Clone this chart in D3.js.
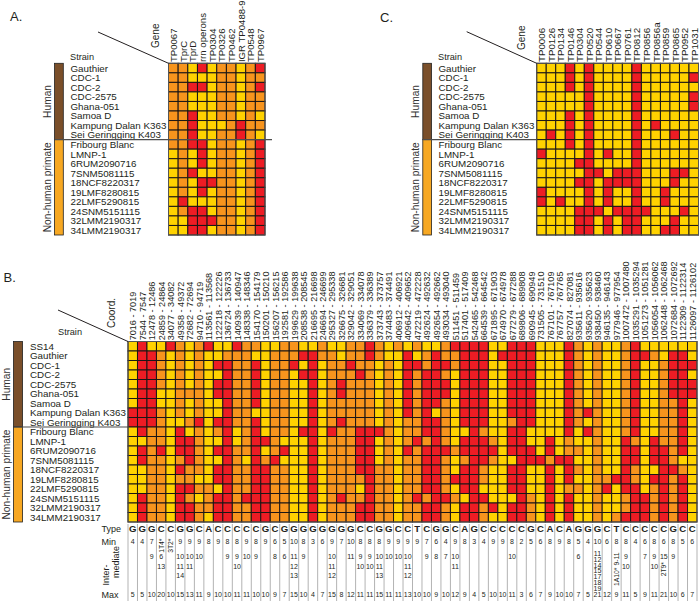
<!DOCTYPE html>
<html><head><meta charset="utf-8">
<script src="https://cdn.jsdelivr.net/npm/d3@7"></script>
<style>body{margin:0;background:#fff}svg{display:block;font-family:"Liberation Sans",Arial,sans-serif;fill:#231f20}</style>
</head><body><svg id="c" width="700" height="601"></svg>
<script>
// ---------- data ----------
const strainsAC = ["Gauthier","CDC-1","CDC-2","CDC-2575","Ghana-051","Samoa D","Kampung Dalan K363","Sei Geringging K403","Fribourg Blanc","LMNP-1","6RUM2090716","7SNM5081115","18NCF8220317","19LMF8280815","22LMF5290815","24SNM5151115","32LMM2190317","34LMM2190317"];
const strainsB = ["SS14","Gauthier","CDC-1","CDC-2","CDC-2575","Ghana-051","Samoa D","Kampung Dalan K363","Sei Geringging K403","Fribourg Blanc","LMNP-1","6RUM2090716","7SNM5081115","18NCF8220317","19LMF8280815","22LMF5290815","24SNM5151115","32LMM2190317","34LMM2190317"];
const humanCountAC = 8;
const humanCountB = 9;
const groupNames = ["Human","Non-human primate"];

const genesA = ["TP0067","TprC","TprD","rrn operons","TP0304","TP0326","TP0462","IGR TP0488-9","TP0548","TP0967"];
const cellsA = [
"OOYRYOOYOR","OOYYYOOYOO","OORRYOOYOR","OOYYYOOYOO","OOYYYOOYOO","OORYYOOYOY",
"OORYYYOROO","OORYYOOROY","OORRYOOYOR","YOYRYOOYOR","YOYRYOOYOR","YORYYOOYOR",
"YOYRROOYOR","YOYRYOOYOR","YRYYYOOYOR","YORRYOOYOR","YYRRROOYOR","YYRRYOOYOR"];

const genesC = ["TP0006","TP0126","TP0134","TP0146","TP0304","TP0520","TP0544","TP0610","TP0667","TP0761","TP0812","TP0856","TP0856a","TP0859","TP0865","TP0952","TP1031"];
const cellsC = [
"YYYRYRYYYYRYYYYYY","YYYRYRYYYYRYYYYYR","YYYRYRYYYYRYYYYYY","YYYYYRYYYYRYYYYYR",
"YYYYYRYYYYRYYYYYR","YYYRYRYYYYRYYYYYY","YYYRYRYYYYRYRYYYY","YRYRYRYYYYRYYYRYY",
"YYYRYRYYYYRYYYYYY","RYYYYRYRYYRYYYYYY","YYYYRRYYYYRYYYYYY","YYYYYRRYRRRYYYRRY",
"YYYYRRYRRRRYYYRYY","RYYYYRYRYYRYYRYYY","RYRYYRYRYYRYYRYYY","YYYYRRRYRRRRYYYRY",
"YYYYRRYRYRRYYYRYY","YYYYRRYRYRRYYRRYY"];

const coordsB = ["7016 - 7019","7544 - 7547","12478 - 12486","24859 - 24864","34077 - 34082","49358 - 49372","72682 - 72694","94710 - 94719","113561 - 113568","122218 - 122226","136724 - 136733","140939 - 140947","148338 - 148346","154170 - 154179","150201 - 150210","156207 - 156215","192581 - 192586","199629 - 199638","208538 - 208545","216695 - 216698","246694 - 246699","295327 - 295338","326675 - 326681","329042 - 329051","334069 - 334078","336379 - 336389","373743 - 373757","374483 - 374491","406912 - 406921","409642 - 409652","472219 - 472228","492624 - 492632","492654 - 492662","493034 - 493040","511451 - 511459","517401 - 517409","542465 - 542468","664539 - 664542","671895 - 671903","674970 - 674978","677279 - 677288","689806 - 689808","690945 - 690949","731505 - 731510","767101 - 767109","767757 - 767765","827074 - 827081","935611 - 935616","935620 - 935623","938450 - 938460","946135 - 946143","977946 - 977954","1007472 - 1007480","1035291 - 1035294","1051273 - 1051281","1056054 - 1056062","1062448 - 1062468","1072684 - 1072692","1122309 - 1122314","1126097 - 1126102"];
const cellsB = [
"YRYYROYORY"+"YROOYYOOYY"+"OYYOOROYOY"+"OYYORRRRYY"+"RRRYYYROYO"+"YYORYYYYYY",
"YRROYOYOYY"+"OOOYYOOORR"+"OOYOOROYYR"+"YOROORRRYR"+"RRRYYYROYO"+"YYORROYRRY",
"YRROYOYOYR"+"ROORYOORYR"+"YOOROOYOYR"+"RORRORRRYY"+"RRRYYYROYO"+"YYORYYORRR",
"YRROYOYOYY"+"ROORYOOYRR"+"YOOOROYOYR"+"ORROYRRRYY"+"RRRYYYROYO"+"YYORYYORRY",
"YRROYOYOYR"+"ROORYOOYYR"+"YOROOOYOYR"+"ORRRYRRRYY"+"RRRYYYROYO"+"YYORYYORRR",
"YRRYYOOOYR"+"ROORYOOYYR"+"YOROOOYOYR"+"ORRRYRRRYY"+"RRRYYYROYO"+"YYORYYORRR",
"YRRYYOYOYY"+"ROORYOOYYR"+"YOOOOOYOYR"+"ORROYRRRYY"+"RRRYYYROYO"+"YYORYYOORY",
"RRROYOYOYY"+"ROOYYOOYYR"+"YOOOOOYOYR"+"ORYOYRRRYY"+"RRRYYYRORO"+"YYORYYOORY",
"RRROYYORYR"+"ROORYOOYYR"+"YOROOOYOYO"+"ORROYRRRYY"+"ORRYYYROYO"+"YYORYYOORY",
"YROOYRYOYO"+"RYORYOOYRR"+"YROORRROYO"+"ORROYYROYY"+"RRYYYYRYRO"+"YYORYYOORY",
"YYOOYRROYY"+"RYORROYYYR"+"YOOORRYOYO"+"ROROYRRROY"+"RRYYRYOYYO"+"YYROYROORY",
"YRORYRROYR"+"ROORYORYYR"+"YOOORRYOYR"+"ORRRORRRRY"+"RRRYRYOOYO"+"YYRRYRRORY",
"YROOYOROYY"+"ROYRORYYYR"+"YOOORRYOYO"+"ORROYORROY"+"YRRRORRYYO"+"YYRRYRROYY",
"YYOOYROOYR"+"ROORROOYYR"+"YOOORROOYO"+"ORROYRROYY"+"RRYYRYROYO"+"YYROYYRROY",
"YYOOYOOYYR"+"ROORROOYYR"+"YOOOOROOYO"+"ORRORRROYY"+"RRYYRYRYYO"+"ORROYRRORY",
"YYOOYRROOY"+"ROORROOYYR"+"YOOOYROOYO"+"ORROYRRYYY"+"RRYYRYOOYO"+"RYRRYORORY",
"YROOYROYOR"+"RORRROOYYR"+"YOROOROOYO"+"RORROYRRYY"+"YROYRYRYYO"+"YYORRORORY",
"YROOYRROOR"+"ROORROOYYR"+"YOOORROOYO"+"ORROYRRORY"+"RROYRYRYYO"+"YYORRORORY",
"YROOYRROYR"+"ROORROOYYR"+"YOOORROOYO"+"ORROYRROYY"+"RROYRYRYYO"+"YORRRORORY"];

const typesB = "GGGCCGGCACCCCCGCGGGGGGGGCCGGCCTCGGCAGCCCCCGCACAGGGCTCCCCCGCC".split("");
const minB = ["4","4","7","1T4*","3T2*","9","9","9","8","9","8","8","9","8","9","6","5","10","8","3","6","9","7","10","8","8","8","9","9","9","9","7","6","4","9","8","3","4","9","9","8","2","5","6","8","9","8","5","4","10","6","8","8","4","6","8","6","8","5","6"];
const interB = [[],[],["9"],["6","13"],[],["10","11","14"],["10","11"],["10"],[],[],["9"],["9","10"],["10"],["9"],[],["8"],["6"],["11","12","13"],["9"],[],[],["10","11","12"],[],["11"],["9","10"],["9","10"],["10","11","13"],["10"],["10"],["10","11","12"],[],["9"],["8"],["7"],["10","11"],[],[],[],[],[],["10"],[],[],[],[],[],[],["6"],[],["11","12","14","15","17","18","19"],[],["1A10* 9-11"],["9","10"],[],["7"],["9","10"],["15","2T9*"],["9"],[],[]];
const maxB = ["5","5","10","20","10","15","13","11","9","10","10","11","11","10","10","9","7","15","10","4","7","15","8","12","11","11","15","11","11","13","10","10","9","10","12","9","4","5","10","10","11","3","6","7","9","10","10","7","5","21","12","9","11","5","9","11","21","10","6","7"];

// ---------- drawing ----------
const svg = d3.select("#c");
const color = d3.scaleOrdinal().domain(["Y","O","R"]).range(["#ffd200","#f7941d","#ed1c24"]);
const groupColor = d3.scaleOrdinal().domain(groupNames).range(["#7a4f2a","#f7a823"]);

function heat(o) {
  const g = svg.append("g");
  const xs = d3.scaleBand().domain(d3.range(o.cols.length)).range([o.x0, o.x1]);
  const ys = d3.scaleBand().domain(d3.range(o.rows.length)).range([o.y0, o.y1]);
  const cells = o.cells.flatMap((r, i) => r.split("").map((v, j) => ({i, j, v})));
  g.selectAll("rect.cell").data(cells).join("rect").attr("class","cell")
    .attr("x", d => xs(d.j)).attr("y", d => ys(d.i))
    .attr("width", xs.bandwidth()).attr("height", ys.bandwidth())
    .attr("fill", d => color(d.v)).attr("stroke", "#1a1616").attr("stroke-width", 1);
  g.append("rect").attr("x", o.x0).attr("y", o.y0).attr("width", o.x1 - o.x0).attr("height", o.y1 - o.y0)
    .attr("fill","none").attr("stroke","#555").attr("stroke-width",1);
  g.selectAll("text.col").data(o.cols).join("text").attr("class","col")
    .attr("transform", (d, j) => `translate(${xs(j) + xs.bandwidth()/2 + 0.3},${o.y0 - 1.2}) rotate(-90)`)
    .attr("dy", "0.36em").attr("font-size", o.colFont).text(d => d);
  g.selectAll("text.row").data(o.rows).join("text").attr("class","row")
    .attr("x", o.labelX).attr("y", (d, i) => ys(i) + ys.bandwidth()/2)
    .attr("dy", "0.37em").attr("font-size", o.rowFont).text(d => d);
  const split = ys(o.human);
  const groups = [{name: groupNames[0], a: o.y0, b: split}, {name: groupNames[1], a: split, b: o.y1}];
  g.selectAll("rect.bar").data(groups).join("rect").attr("class","bar")
    .attr("x", o.barX).attr("width", o.barW).attr("y", d => d.a).attr("height", d => d.b - d.a)
    .attr("fill", d => groupColor(d.name)).attr("stroke", "#222").attr("stroke-width", 0.8);
  g.selectAll("text.grp").data(groups).join("text").attr("class","grp")
    .attr("transform", d => `translate(${o.grpX},${(d.a + d.b)/2}) rotate(-90)`)
    .attr("text-anchor","middle").attr("font-size", 10.2).attr("fill","#333").text(d => d.name);
  g.append("line").attr("x1", o.barX).attr("x2", o.sepX2).attr("y1", split).attr("y2", split)
    .attr("stroke","#4d4d4d").attr("stroke-width",1.1);
  g.append("line").attr("x1", o.diag[0]).attr("y1", o.diag[1]).attr("x2", o.x0).attr("y2", o.y0)
    .attr("stroke","#231f20").attr("stroke-width",1);
  g.append("text").attr("transform", `translate(${o.headX},${o.headY}) rotate(-90)`)
    .attr("dy","0.36em").attr("font-size", 10).text(o.head);
  g.append("text").attr("x", o.strainX).attr("y", o.strainY).attr("font-size", 9.2).text("Strain");
  g.append("text").attr("x", o.letterX).attr("y", o.letterY).attr("font-size", 13).text(o.letter);
  return {xs, ys};
}

heat({letter:"A.", letterX:10, letterY:21, cols:genesA, rows:strainsAC, cells:cellsA, human:humanCountAC,
  x0:168.5, x1:265, y0:63.3, y1:235, colFont:9.6, rowFont:9.8, labelX:70.5,
  barX:54.5, barW:8.8, grpX:50.5, sepX2:272, diag:[98,32], head:"Gene", headX:155.5, headY:48,
  strainX:70, strainY:59.5});

heat({letter:"C.", letterX:380, letterY:21.5, cols:genesC, rows:strainsAC, cells:cellsC, human:humanCountAC,
  x0:536.7, x1:698.5, y0:63.3, y1:235, colFont:9.8, rowFont:9.8, labelX:438.5,
  barX:422.8, barW:8.8, grpX:419, sepX2:536.7, diag:[466.7,31.7], head:"Gene", headX:521, headY:50,
  strainX:438, strainY:59.5});

const B = heat({letter:"B.", letterX:3.5, letterY:281.5, cols:coordsB, rows:strainsB, cells:cellsB, human:humanCountB,
  x0:128, x1:697, y0:341.5, y1:522, colFont:9.1, rowFont:9.8, labelX:30,
  barX:13.4, barW:9.2, grpX:9.6, sepX2:128, diag:[58,310], head:"Coord.", headX:111.7, headY:328,
  strainX:58, strainY:334.5});

// ---------- table under B ----------
const xs = B.xs, bw = xs.bandwidth();
const t = svg.append("g");
const bounds = d3.range(typesB.length + 1).map(k => k < typesB.length ? xs(k) : xs(k - 1) + bw);
t.selectAll("line.sep").data(bounds).join("line").attr("class","sep")
  .attr("x1", d => d).attr("x2", d => d).attr("y1", 524).attr("y2", 601)
  .attr("stroke", "#b3b3b3").attr("stroke-width", 1);
const cx = j => xs(j) + bw / 2;
const rowY = {type: 531.8, min: 543.8, inter: 559, max: 597};
t.selectAll("text.type").data(typesB).join("text").attr("class","type")
  .attr("x", (d, j) => cx(j)).attr("y", rowY.type).attr("text-anchor","middle")
  .attr("font-size", 9.6).attr("font-weight","bold").text(d => d);
const isRot = s => /[A-Z*]/.test(s);
function numText(sel) { return sel.attr("text-anchor","middle").attr("font-size", 7); }
minB.forEach((m, j) => {
  if (isRot(m)) {
    t.append("text").attr("transform", `translate(${cx(j)},${538.5}) rotate(-90)`)
      .attr("dy","0.35em").attr("text-anchor","end").attr("font-size", 6.8).text(m);
  } else numText(t.append("text").attr("x", cx(j)).attr("y", rowY.min)).text(m);
});
interB.forEach((list, j) => {
  const dense = list.length > 4;
  const step = dense ? 5.75 : 9.5;
  list.forEach((v, k) => {
    const top = 552 + k * step;
    if (isRot(v)) {
      t.append("text").attr("transform", `translate(${cx(j)},${top + 0.5}) rotate(-90)`)
        .attr("dy","0.35em").attr("text-anchor","end").attr("font-size", 6.8).text(v);
    } else numText(t.append("text").attr("x", cx(j)).attr("y", (dense ? 556.2 : rowY.inter) + k * step)
        .attr("font-size", dense ? 4.9 : 7)).text(v);
  });
});
t.selectAll("text.max").data(maxB).join("text").attr("class","max")
  .attr("x", (d, j) => cx(j)).attr("y", rowY.max).attr("text-anchor","middle").attr("font-size", 7).text(d => d);
// row titles
t.append("text").attr("x", 101.5).attr("y", 532).attr("font-size", 9).text("Type");
t.append("text").attr("x", 101.5).attr("y", 544.5).attr("font-size", 9).text("Min");
t.append("text").attr("x", 101.5).attr("y", 597.5).attr("font-size", 9).text("Max");
t.append("text").attr("transform","translate(106,575) rotate(-90)").attr("dy","0.36em")
  .attr("text-anchor","middle").attr("font-size", 9).text("Inter-");
t.append("text").attr("transform","translate(116,562) rotate(-90)").attr("dy","0.36em")
  .attr("text-anchor","middle").attr("font-size", 9).text("mediate");
</script></body></html>
